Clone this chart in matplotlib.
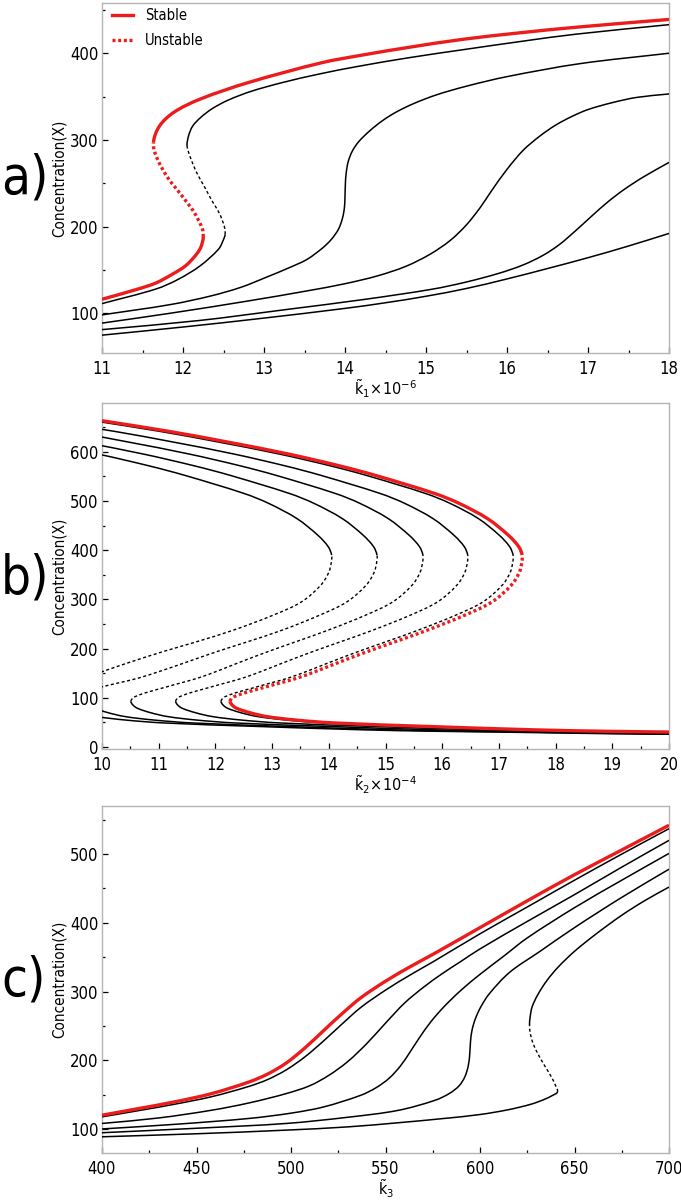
import numpy as np
import matplotlib
matplotlib.use('Agg')
import matplotlib.pyplot as plt
import matplotlib.font_manager as fm
from matplotlib.lines import Line2D
from matplotlib.path import Path
from matplotlib.patches import PathPatch
from matplotlib.ticker import MultipleLocator

# ---------------- data: panel a (k1 x 1e-6 vs concentration X) ----------------
a_X_red = [116, 128, 135, 145, 154.5, 165, 174, 182, 188, 197, 216, 235, 258, 281, 297,
           316, 332, 347, 366, 389, 398, 407, 416, 423, 430, 439]
a_k_red = [11.0, 11.45, 11.67, 11.87, 12.03, 12.14, 12.21, 12.24, 12.25, 12.24, 12.14, 11.99,
           11.80, 11.67, 11.635, 11.71, 11.89, 12.21, 12.8, 13.71, 14.22, 14.8, 15.45, 16.1,
           16.85, 18.0]
a_fold_red = (188, 297)

a_X2 = [111, 128, 139, 154.5, 174, 185, 191, 200, 215, 231, 245, 262, 280, 293, 305, 316,
        326, 336, 346, 356, 366, 376, 385, 395, 404, 414, 422, 433]
a_k2 = [11.0, 11.67, 11.94, 12.21, 12.44, 12.50, 12.52, 12.51, 12.45, 12.35, 12.27, 12.17,
        12.09, 12.05, 12.07, 12.12, 12.22, 12.36, 12.56, 12.84, 13.22, 13.68, 14.17, 14.8,
        15.45, 16.2, 16.85, 18.0]
a_fold2 = (191, 293)

a_X3 = [98, 110, 120, 130, 141.5, 152, 162, 175, 185, 197, 210, 222, 235, 250, 262, 275,
        287, 298, 310, 322, 332, 342, 352, 362, 373, 388, 400]
a_k3 = [11.0, 11.85, 12.35, 12.72, 13.03, 13.30, 13.53, 13.72, 13.83, 13.92, 13.97, 13.993,
        14.0, 14.005, 14.015, 14.04, 14.09, 14.17, 14.3, 14.46, 14.63, 14.85, 15.13, 15.5,
        16.0, 16.9, 18.0]

a_X4 = [88.5, 100, 114, 126, 134, 143, 154, 168, 184, 202, 222, 240, 266, 288, 304, 317,
        327, 335, 343, 349, 353]
a_k4 = [11.0, 11.85, 12.8, 13.55, 14.0, 14.4, 14.75, 15.05, 15.3, 15.5, 15.67, 15.8, 16.0,
        16.2, 16.4, 16.6, 16.8, 17.0, 17.3, 17.6, 18.0]

a_X5 = [81, 91.5, 104, 116, 127.7, 136, 146, 155.7, 167, 179.4, 195.4, 212.4, 228.8, 243,
        257, 274]
a_k5 = [11.0, 12.2, 13.26, 14.25, 15.08, 15.5, 15.9, 16.2, 16.45, 16.65, 16.85, 17.05,
        17.25, 17.45, 17.68, 18.0]

a_X6 = [74.6, 84, 94.3, 105.5, 112, 119.5, 128.5, 139.5, 151.5, 164, 177.5, 192]
a_k6 = [11.0, 12.0, 13.0, 14.0, 14.5, 15.0, 15.5, 16.0, 16.5, 17.0, 17.5, 18.0]

# ---------------- data: panel b (k2 x 1e-4 vs concentration X) ----------------
b_X = [24, 27, 30.5, 32, 35, 42, 49, 55, 62, 70, 79, 86, 93,
       100, 106, 113, 120, 130, 140, 155, 170, 194, 214, 238, 268, 295, 329, 355, 376,
       390, 407, 430, 464, 495, 515, 552, 571, 595, 620, 641, 663]
b_k_red = [25.0, 22.0, 19.95, 18.9, 17.6, 15.7, 14.08, 13.4, 12.9, 12.6, 12.37, 12.29, 12.26,
           12.30, 12.41, 12.6, 12.82, 13.13, 13.44, 13.8, 14.13, 14.68, 15.17, 15.75, 16.4,
           16.88, 17.22, 17.36, 17.405,
           17.41, 17.35, 17.17, 16.8, 16.3, 15.87, 14.82, 14.2, 13.3, 12.2, 11.2, 10.0]
b_k5 = [24.84, 21.84, 19.79, 18.74, 17.44, 15.54, 13.92, 13.24, 12.74, 12.44, 12.21, 12.13,
        12.10,
        12.14, 12.25, 12.44, 12.66, 12.97, 13.28, 13.64, 13.97, 14.52, 15.01, 15.59, 16.24,
        16.72, 17.06, 17.20, 17.245,
        17.25, 17.19, 17.01, 16.64, 16.14, 15.71, 14.66, 14.04, 13.14, 12.04, 11.04, 9.84]
b_k4 = [24.04, 21.04, 18.99, 17.94, 16.64, 14.74, 13.12, 12.44, 11.94, 11.64, 11.41, 11.33,
        11.30,
        11.34, 11.45, 11.64, 11.86, 12.17, 12.48, 12.84, 13.17, 13.72, 14.21, 14.79, 15.44,
        15.92, 16.26, 16.40, 16.445,
        16.45, 16.39, 16.21, 15.84, 15.34, 14.91, 13.86, 13.24, 12.34, 11.24, 10.24, 9.04]
b_k3 = [23.25, 20.25, 18.2, 17.15, 15.85, 13.95, 12.33, 11.65, 11.15, 10.85, 10.62, 10.54,
        10.51,
        10.55, 10.66, 10.85, 11.07, 11.38, 11.69, 12.05, 12.38, 12.93, 13.42, 14.0, 14.65,
        15.13, 15.47, 15.61, 15.655,
        15.66, 15.60, 15.42, 15.05, 14.55, 14.12, 13.07, 12.45, 11.55, 10.45, 9.45, 8.25]
b_k2 = [22.5, 19.5, 17.45, 16.4, 15.1, 13.2, 11.58, 10.9, 10.4, 10.1, 9.87, 9.79, 9.76,
        9.4, 9.51, 9.7, 9.92, 10.28, 10.64, 11.05, 11.43, 12.03, 12.57, 13.19, 13.84,
        14.32, 14.66, 14.80, 14.845,
        14.85, 14.79, 14.61, 14.24, 13.74, 13.31, 12.26, 11.64, 10.74, 9.64, 8.64, 7.44]
b_k1 = [22.0, 19.0, 16.95, 15.9, 14.6, 12.7, 11.08, 10.4, 9.9, 9.6, 9.37, 9.29, 9.26,
        8.54, 8.65, 8.84, 9.06, 9.37, 9.68, 10.05, 10.43, 11.08, 11.67, 12.33, 13.02,
        13.52, 13.86, 14.0, 14.045,
        14.05, 13.99, 13.81, 13.44, 12.94, 12.51, 11.46, 10.84, 9.94, 8.84, 7.84, 6.64]
b_folds = (93, 390)

# ---------------- data: panel c (k3 vs concentration X) ----------------
c_X_red = [120, 130, 139.4, 151.5, 168.4, 180, 196, 218, 243, 268, 291, 315, 336, 354,
           393, 432, 470, 506, 542]
c_k_red = [400, 420, 438.4, 458.1, 477.8, 487.7, 497.5, 507.4, 517.2, 527.1, 537, 550, 563,
           575, 600, 625, 650, 675, 700]
c_X1 = [117.6, 127, 136, 147, 162, 172, 186, 205, 228, 253, 277, 302, 324, 343, 384, 423,
        462, 500, 537]
c_k1 = [400, 420, 438.4, 458.1, 477.8, 487.7, 497.5, 507.4, 517.2, 527.1, 537, 550, 563,
        575, 600, 625, 650, 675, 700]
c_X2 = [108, 116, 127.3, 138, 151.5, 163, 178, 198, 224, 254, 283, 306, 326, 344, 362, 402,
        441, 481, 520]
c_k2 = [400, 430, 458.1, 478, 497.5, 510, 520, 530, 540, 550, 560, 570, 580, 590, 600, 625,
        650, 675, 700]
c_X3 = [100, 107, 115.3, 123, 132, 149, 160, 174, 192, 212, 233, 256, 278, 302, 325, 352,
        378, 422, 462, 501]
c_k3 = [400, 440, 477.8, 500, 517.2, 536.9, 545, 552, 558, 563, 568, 574, 581, 590, 600,
        612.8, 625, 650, 675, 700]
c_X4 = [94.5, 101, 108, 117, 127, 141.8, 152, 163, 176, 192, 210, 228, 244, 260, 278, 297,
        328, 358, 393, 437, 478]
c_k4 = [400, 450, 497.5, 530, 556.6, 576.3, 584, 589, 592, 593.8, 594.6, 595, 595.8, 597.5,
        600.5, 605, 615.7, 631.5, 650, 675, 700]
c_X5 = [88.6, 93, 98.3, 103, 109, 115, 121, 128, 136, 143, 149, 154, 163, 177, 193, 210,
        225, 238, 250, 262, 277, 295, 316, 336, 359, 385, 411, 432, 452]
c_k5 = [400, 450, 497.5, 530, 556.6, 580, 600, 615, 627, 634, 638.5, 641, 640, 637.5, 634,
        630.5, 628, 626.7, 626.2, 626.5, 627.5, 630.5, 635.4, 641.5, 650.2, 662, 675, 687,
        700]
c_fold5 = (154, 250)

# ---------------- fonts ----------------
names = {f.name for f in fm.fontManager.ttflist}
dv_cond = any(f.name == 'DejaVu Sans' and 'ondensed' in f.fname for f in fm.fontManager.ttflist)
if dv_cond:
    plt.rcParams['font.family'] = ['DejaVu Sans']
    plt.rcParams['font.stretch'] = 'condensed'
elif 'Liberation Sans Narrow' in names:
    plt.rcParams['font.family'] = ['Liberation Sans Narrow', 'DejaVu Sans']
else:
    plt.rcParams['font.family'] = ['DejaVu Sans']
plt.rcParams['mathtext.fontset'] = 'dejavusans'

RED = '#ec1c1c'
GRAY = '#b4b4b4'

FIG_W, FIG_H = 681, 1200
fig = plt.figure(figsize=(FIG_W / 100, FIG_H / 100), dpi=100)
L, W = 102 / FIG_W, 567 / FIG_W
axa = fig.add_axes([L, 1 - 353 / FIG_H, W, 350 / FIG_H])
axb = fig.add_axes([L, 1 - 749 / FIG_H, W, 346 / FIG_H])
axc = fig.add_axes([L, 1 - 1153 / FIG_H, W, 347 / FIG_H])

axa.set_xlim(11, 18)
axa.set_ylim(54, 458)
axb.set_xlim(10, 20)
axb.set_ylim(-4, 699)
axc.set_xlim(400, 700)
axc.set_ylim(65, 570)


def bezier_controls(ax, K, X):
    """Smooth cubic (Bezier) rendering through the read points, computed in pixel-like units."""
    x0, x1 = ax.get_xlim()
    y0, y1 = ax.get_ylim()
    bb = ax.get_position()
    sx = bb.width * FIG_W / (x1 - x0)
    sy = bb.height * FIG_H / (y1 - y0)
    Q = np.column_stack([np.asarray(K, float) * sx, np.asarray(X, float) * sy])
    n = len(Q)
    d = np.zeros_like(Q)
    for i in range(n):
        if i == 0:
            v = Q[1] - Q[0]
        elif i == n - 1:
            v = Q[-1] - Q[-2]
        else:
            v = Q[i + 1] - Q[i - 1]
        nv = np.hypot(*v)
        d[i] = v / nv if nv > 0 else 0
    seglen = np.hypot(*(Q[1:] - Q[:-1]).T)
    B1 = Q[:-1] + d[:-1] * seglen[:, None] / 3
    B2 = Q[1:] - d[1:] * seglen[:, None] / 3
    scale = np.array([sx, sy])
    return Q / scale, B1 / scale, B2 / scale


def add_segment(ax, P, B1, B2, s, e, **kw):
    verts = [P[s]]
    codes = [Path.MOVETO]
    for i in range(s, e):
        verts += [B1[i], B2[i], P[i + 1]]
        codes += [Path.CURVE4] * 3
    ax.add_patch(PathPatch(Path(verts, codes), fill=False, **kw))


def draw(ax, X, K, folds=None, red=False):
    P, B1, B2 = bezier_controls(ax, K, X)
    Xa = np.asarray(X, float)
    n = len(Xa)
    if folds is None:
        parts = [(0, n - 1, True)]
    else:
        i_lo = int(np.argmin(np.abs(Xa - folds[0])))
        i_hi = int(np.argmin(np.abs(Xa - folds[1])))
        parts = [(0, i_lo, True), (i_lo, i_hi, False), (i_hi, n - 1, True)]
    for s, e, stable in parts:
        if e <= s:
            continue
        if red:
            kw = dict(edgecolor=RED, lw=2.4, zorder=5, capstyle='butt')
            if not stable:
                kw['linestyle'] = (0, (0.9, 0.8))
        else:
            if stable:
                kw = dict(edgecolor='black', lw=1.1, zorder=3)
            else:
                kw = dict(edgecolor='black', lw=1.0, zorder=3, linestyle=(0, (2.2, 1.8)))
        add_segment(ax, P, B1, B2, s, e, **kw)


# panel a
for X, K in [(a_X3, a_k3), (a_X4, a_k4), (a_X5, a_k5), (a_X6, a_k6)]:
    draw(axa, X, K)
draw(axa, a_X2, a_k2, a_fold2)
draw(axa, a_X_red, a_k_red, a_fold_red, red=True)
axa.xaxis.set_major_locator(MultipleLocator(1))
axa.xaxis.set_minor_locator(MultipleLocator(0.5))
axa.yaxis.set_major_locator(MultipleLocator(100))
axa.yaxis.set_minor_locator(MultipleLocator(50))

# panel b
for K in [b_k1, b_k2, b_k3, b_k4, b_k5]:
    draw(axb, b_X, K, b_folds)
draw(axb, b_X, b_k_red, b_folds, red=True)
axb.xaxis.set_major_locator(MultipleLocator(1))
axb.xaxis.set_minor_locator(MultipleLocator(0.5))
axb.yaxis.set_major_locator(MultipleLocator(100))
axb.yaxis.set_minor_locator(MultipleLocator(50))

# panel c
for X, K in [(c_X1, c_k1), (c_X2, c_k2), (c_X3, c_k3), (c_X4, c_k4)]:
    draw(axc, X, K)
draw(axc, c_X5, c_k5, c_fold5)
draw(axc, c_X_red, c_k_red, red=True)
axc.xaxis.set_major_locator(MultipleLocator(50))
axc.xaxis.set_minor_locator(MultipleLocator(25))
axc.yaxis.set_major_locator(MultipleLocator(100))
axc.yaxis.set_minor_locator(MultipleLocator(50))

xlabels = [r'$\tilde{\mathrm{k}}_1\!\times\!10^{-6}$',
           r'$\tilde{\mathrm{k}}_2\!\times\!10^{-4}$',
           r'$\tilde{\mathrm{k}}_3$']
xlab_y = [-0.103, -0.103, -0.102]
for ax, xl, ly in zip([axa, axb, axc], xlabels, xlab_y):
    for s in ax.spines.values():
        s.set_color(GRAY)
        s.set_linewidth(1.0)
    ax.tick_params(which='both', direction='in', top=False, right=False, color='black',
                   width=0.9, labelsize=12)
    ax.tick_params(which='major', length=4.5)
    ax.tick_params(which='minor', length=2.5)
    ax.tick_params(axis='y', pad=2.5)
    ax.tick_params(axis='x', pad=5)
    ax.set_ylabel('Concentration(X)', fontsize=11)
    ax.yaxis.set_label_coords(-0.062, 0.5)
    ax.set_xlabel(xl, fontsize=11.5)
    ax.xaxis.label.set_va('center')
    ax.xaxis.set_label_coords(0.5, ly)

# legend
h = [Line2D([], [], color=RED, lw=2.4),
     Line2D([], [], color=RED, lw=2.4, dashes=(0.9, 0.8))]
axa.legend(h, ['Stable', 'Unstable'], loc='upper left', bbox_to_anchor=(0.0, 1.015),
           frameon=False, fontsize=10.5, handlelength=1.45, handletextpad=0.8,
           labelspacing=0.7, borderaxespad=0.5, borderpad=0.2)

# panel letters
for txt, yc in [('a)', 178), ('b)', 578), ('c)', 980)]:
    fig.text(1 / FIG_W, 1 - yc / FIG_H, txt, fontsize=38, ha='left', va='center')

fig.savefig('out.png', dpi=100)
